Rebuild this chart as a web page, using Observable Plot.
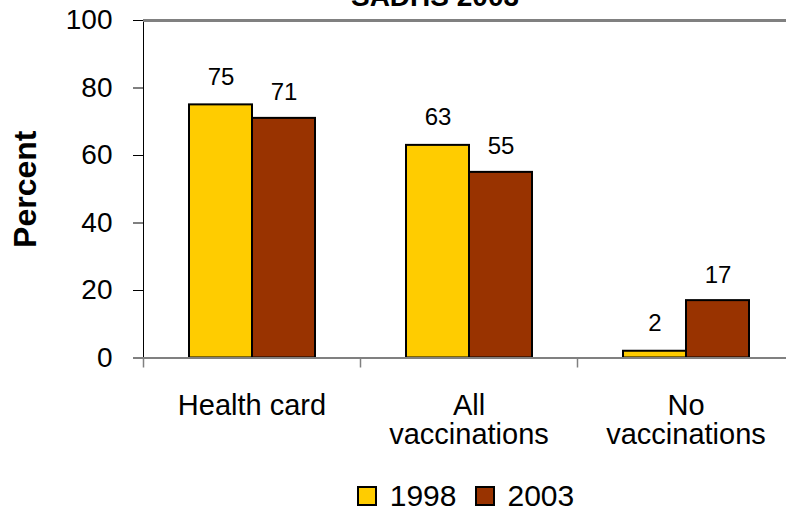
<!DOCTYPE html>
<html><head><meta charset="utf-8">
<script src="https://cdn.jsdelivr.net/npm/d3@7"></script>
<script src="https://cdn.jsdelivr.net/npm/@observablehq/plot@0.6"></script>
<style>
body{margin:0;overflow:hidden;background:#fff;font-family:"Liberation Sans",Arial,sans-serif;position:relative;width:786px;height:518px}
#title{position:absolute;left:285px;width:300px;top:-17px;text-align:center;font-weight:bold;font-size:28px;line-height:28px;color:#000}
#chart svg{display:block}
#legend{position:absolute;top:470px;left:143px;width:645px;height:52px;display:flex;align-items:center;justify-content:center;font-size:30px;line-height:30px;color:#000}
.sw{width:20px;height:20px;box-sizing:border-box;border:2px solid #000;margin-right:13px}
.item{display:flex;align-items:center;margin:0 9px}
[aria-label="y-axis tick label"]{font-size:28px}
[aria-label="y-axis label"]{font-size:32px;font-weight:bold}
</style></head><body>
<div id="title">SADHS 2003</div>
<div id="chart"></div>
<div id="legend"></div>
<script>
const categories = ["Health card", "All\nvaccinations", "No\nvaccinations"];
const years = ["1998", "2003"];
const values1998 = [75, 63, 2];
const values2003 = [71, 55, 17];
const yTicks = [0, 20, 40, 60, 80, 100];
const colors = ["#FFCC00", "#993300"];

const data = categories.flatMap((c, i) => [
  {category: c, year: years[0], value: values1998[i]},
  {category: c, year: years[1], value: values2003[i]}
]);

const W = 786, H = 470, ML = 143, MR = -8, MT = 20, MB = 112.5;
const halfBand = (W - MR - ML) / categories.length / 2;

const chart = Plot.plot({
  width: W, height: H, marginLeft: ML, marginRight: MR, marginTop: MT, marginBottom: MB,
  style: {fontFamily: "'Liberation Sans', Arial, sans-serif", background: "#fff", color: "#000"},
  fx: {domain: categories, padding: 0, axis: null, label: null},
  x: {domain: years, paddingInner: 0, paddingOuter: 0.722, axis: null},
  y: {domain: [0, 100], ticks: yTicks, tickSize: 10, tickPadding: 21, line: true,
      label: "Percent", labelAnchor: "center", labelOffset: 130, labelArrow: "none"},
  color: {domain: years, range: colors},
  marks: [
    Plot.ruleY([100], {stroke: "#808080", strokeWidth: 3}),
    Plot.barY(data, {fx: "category", x: "year", y: "value", fill: "year", stroke: "#000", strokeWidth: 2}),
    Plot.ruleY([0], {stroke: "#808080", strokeWidth: 2}),
    Plot.text(data.filter(d => d.year === years[0]), {fx: "category", x: "year", y: "value", text: d => String(d.value),
      lineAnchor: "bottom", dy: -20, fontSize: 24, fill: "#000"}),
    Plot.text(data.filter(d => d.year === years[1]), {fx: "category", x: "year", y: "value", text: d => String(d.value),
      lineAnchor: "bottom", dy: -18, fontSize: 24, fill: "#000"}),
    Plot.axisFx({anchor: "bottom", tickSize: 0, tickPadding: 35.5, fontSize: 29, lineHeight: 1.02, label: null}),
    Plot.axisFx({anchor: "bottom", tickSize: 10, tickFormat: () => "", dx: -halfBand, stroke: "#808080", strokeWidth: 1.5, label: null})
  ]
});
document.getElementById("chart").appendChild(chart);

const legend = document.getElementById("legend");
years.forEach((y, i) => {
  const item = document.createElement("div");
  item.className = "item";
  const sw = document.createElement("div");
  sw.className = "sw";
  sw.style.background = colors[i];
  const t = document.createElement("span");
  t.textContent = y;
  item.appendChild(sw); item.appendChild(t);
  legend.appendChild(item);
});
</script>
</body></html>
